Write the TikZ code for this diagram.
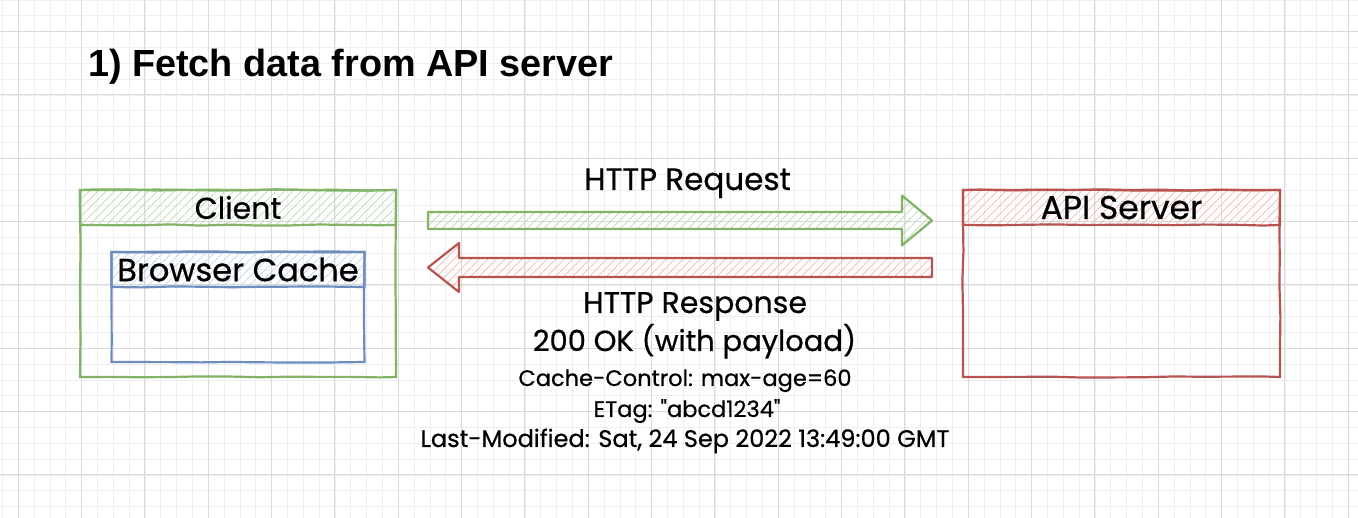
\documentclass[tikz,border=0pt]{standalone}
\usepackage{fontspec}
\setmainfont{Poppins}
\newfontfamily\handfont{Poppins}[FakeBold=0.6]
\newfontfamily\titlefont{Liberation Sans}
\usetikzlibrary{positioning, calc, patterns.meta, decorations.pathmorphing}

\definecolor{greenline}{HTML}{82B366}
\definecolor{greenhatch}{HTML}{BCD9B8}
\definecolor{redline}{HTML}{B85450}
\definecolor{redhatch}{HTML}{F2B8B5}
\definecolor{blueline}{HTML}{6C8EBF}
\definecolor{bluehatch}{HTML}{C3D6F0}
\definecolor{gridminor}{HTML}{EEEEEE}
\definecolor{gridmajor}{HTML}{DADADA}

\tikzset{
	sketchy/.style={decorate, decoration={random steps, segment length=30pt, amplitude=0.6pt}}, % hand drawn look
	box/.style={draw=#1line, line width=2.2pt, sketchy, outer sep=0pt, inner sep=0pt},
	hatched/.style={pattern={Lines[angle=45, distance=6pt, line width=0.7pt]}, pattern color=#1hatch},
	header/.style={box=#1, hatched=#1, minimum height=35pt},
	fatarrow/.style={draw=#1line, line width=2.2pt, hatched=#1, line join=round},
	bigtext/.style={font=\handfont\fontsize{30}{36}\selectfont, inner sep=0pt},
	smalltext/.style={font=\handfont\fontsize{22.5}{28}\selectfont, inner sep=0pt},
}

\begin{document}
\begin{tikzpicture}[x=1pt, y=-1pt]
	\pgfmathsetseed{7}
	\useasboundingbox[fill=white] (0,0) rectangle (1358,518);
	% grid paper
	\foreach \i in {0,...,86}
		\draw[gridminor, line width=0.8pt] ({2.5+15.833*\i},0) -- ++(0,518);
	\foreach \j in {0,...,32}
		\draw[gridminor, line width=0.8pt] (0,{15.833*\j}) -- ++(1358,0);
	\foreach \i in {0,...,21}
		\draw[gridmajor, line width=1pt] ({18.33+63.33*\i},0) -- ++(0,518);
	\foreach \j in {0,...,7}
		\draw[gridmajor, line width=1pt] (0,{31.67+63.33*\j}) -- ++(1358,0);

	\node[anchor=base west, inner sep=0pt, font=\titlefont\bfseries\fontsize{37.8}{45}\selectfont] (title) at (88,77) {1) Fetch data from API server};

	% client side
	\node[box=green, minimum width=316pt, minimum height=187pt, anchor=north west] (client) at (80,190) {};
	\node[header=green, minimum width=316pt, anchor=north, bigtext] (clienthead) at (client.north) {Client};
	\node[box=blue, minimum width=253pt, minimum height=110pt, below=27pt of clienthead] (cache) {};
	\node[header=blue, minimum width=253pt, anchor=north, bigtext, font=\handfont\fontsize{32}{36}\selectfont] (cachehead) at (cache.north) {Browser Cache};

	% server side
	\node[box=red, minimum width=317pt, minimum height=187pt, anchor=north west] (server) at (963,190) {};
	\node[header=red, minimum width=317pt, anchor=north, bigtext, font=\handfont\fontsize{33}{36}\selectfont] (serverhead) at (server.north) {API Server};

	% request
	\coordinate (reqS) at (428,220.5);
	\coordinate (reqE) at (932,220.5);
	\draw[fatarrow=green] ($(reqS)+(0,-8.5)$) -- ($(reqE)+(-30,-8.5)$) -- ($(reqE)+(-30,-25)$) -- (reqE)
		-- ($(reqE)+(-30,25)$) -- ($(reqE)+(-30,8.5)$) -- ($(reqS)+(0,8.5)$) -- cycle;
	\node[bigtext, anchor=base, font=\handfont\fontsize{31}{36}\selectfont] (reqlabel) at (687.5,190) {HTTP Request};

	% response
	\coordinate (resS) at (932,267.5);
	\coordinate (resE) at (428,267.5);
	\draw[fatarrow=red] ($(resS)+(0,-9.5)$) -- ($(resE)+(31,-9.5)$) -- ($(resE)+(31,-24.5)$) -- (resE)
		-- ($(resE)+(31,24.5)$) -- ($(resE)+(31,9.5)$) -- ($(resS)+(0,9.5)$) -- cycle;
	\node[bigtext, anchor=base] (reslabel) at (695,313) {HTTP Response};
	\node[bigtext, anchor=base, font=\handfont\fontsize{29}{36}\selectfont] (status) at (694.5,351) {200 OK (with payload)};
	\node[smalltext, anchor=base] (cachectl) at (685,386) {Cache-Control: max-age=60};
	\node[smalltext, anchor=base] (etag) at (687,417) {ETag: "abcd1234"};
	\node[smalltext, anchor=base, font=\handfont\fontsize{24}{28}\selectfont] (lastmod) at (685,447) {Last-Modified: Sat, 24 Sep 2022 13:49:00 GMT};
\end{tikzpicture}
\end{document}
